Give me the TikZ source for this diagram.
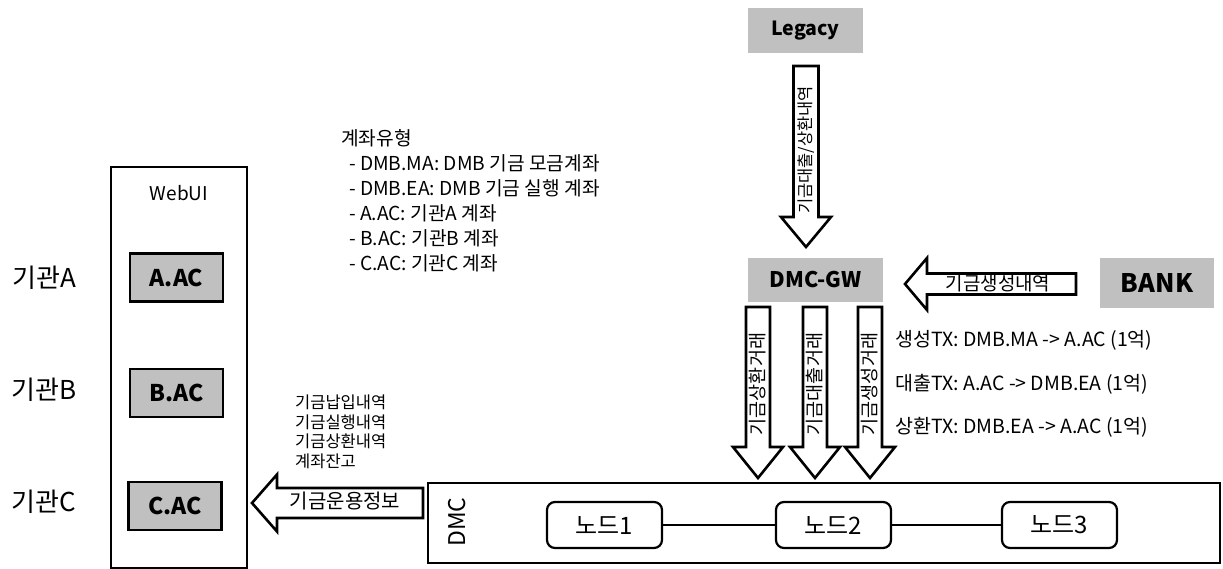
\documentclass[tikz,border=0pt]{standalone}
\usepackage{fontspec}
\setmainfont{Noto Sans CJK KR}
\definecolor{boxgray}{RGB}{192,192,192}
\newcommand{\fs}[1]{\fontsize{#1}{#1}\selectfont}
% down block arrow: cx, top, headbase, tip, halfshaft, halfhead
\newcommand{\blkdown}[6]{%
  \draw[blockarrow] (#1-#5,#2) -- (#1+#5,#2) -- (#1+#5,#3) -- (#1+#6,#3) -- (#1,#4) -- (#1-#6,#3) -- (#1-#5,#3) -- cycle;}
% left block arrow: tipx, cy, headbase x, right x, halfshaft, halfhead
\newcommand{\blkleft}[6]{%
  \draw[blockarrow] (#1,#2) -- (#3,#2-#6) -- (#3,#2-#5) -- (#4,#2-#5) -- (#4,#2+#5) -- (#3,#2+#5) -- (#3,#2+#6) -- cycle;}
\begin{document}
\begin{tikzpicture}[x=1pt,y=-1pt,
  blockarrow/.style={draw=black, fill=white, line width=2.6pt, line join=miter},
  graybox/.style={fill=boxgray, inner sep=0pt, font=\bfseries},
  acbox/.style={draw=black, line width=2.2pt, fill=boxgray, minimum width=93pt, minimum height=48pt, inner sep=0pt, font=\bfseries\fs{23}},
  nodebox/.style={draw=black, line width=2.2pt, rounded corners=8pt, minimum width=115pt, minimum height=46pt, inner sep=0pt, font=\fs{24}},
  frame/.style={draw=black, line width=2.4pt},
  arrowtext/.style={inner sep=0pt, font=\fs{18.5}},
  plain/.style={inner sep=0pt}
]
\useasboundingbox (0,0) rectangle (1223,569);

% top gray boxes
\node[graybox, minimum width=115pt, minimum height=45pt, font=\bfseries\fs{19.5}] (legacy) at (805.5,30.5) {Legacy};
\node[graybox, minimum width=135pt, minimum height=44pt, font=\bfseries\fs{21.5}] (gw) at (815.5,280) {DMC-GW};
\node[graybox, minimum width=114pt, minimum height=50pt, font=\bfseries\fs{25.5}] (bank) at (1157,283) {BANK};

% Legacy -> GW arrow
\blkdown{806}{66}{217}{247}{12.5}{25}
\node[arrowtext, rotate=90, font=\fs{16.5}] (tlegacy) at (806,150) {기금대출/상환내역};

% BANK -> GW arrow
\blkleft{905}{284}{927}{1076}{10.5}{26}
\node[arrowtext, font=\fs{19}] (tbank) at (998,283) {기금생성내역};

% GW -> DMC arrows
\blkdown{758}{307}{447}{478}{12}{25}
\blkdown{815}{307}{447}{478}{12}{25}
\blkdown{870}{307}{447}{478}{12}{25}
\node[arrowtext, rotate=90] (t1) at (758,384) {기금상환거래};
\node[arrowtext, rotate=90] (t2) at (815,384) {기금대출거래};
\node[arrowtext, rotate=90] (t3) at (870,384) {기금생성거래};

% TX texts
\node[plain, anchor=west, font=\fs{19.5}] (tx1) at (895,340) {생성TX: DMB.MA -> A.AC (1억)};
\node[plain, anchor=west, font=\fs{19.5}] (tx2) at (895,384) {대출TX: A.AC -> DMB.EA (1억)};
\node[plain, anchor=west, font=\fs{19.5}] (tx3) at (895,427) {상환TX: DMB.EA -> A.AC (1억)};

% account types
\node[plain, anchor=north west, align=left, font=\fontsize{19.2}{25}\selectfont] (types) at (341,129)
 {계좌유형\\
  \hspace*{8pt}- DMB.MA: DMB 기금 모금계좌\\
  \hspace*{8pt}- DMB.EA: DMB 기금 실행 계좌\\
  \hspace*{8pt}- A.AC: 기관A 계좌\\
  \hspace*{8pt}- B.AC: 기관B 계좌\\
  \hspace*{8pt}- C.AC: 기관C 계좌};

% WebUI
\draw[frame] (111,167) rectangle (247,568);
\node[plain, font=\fs{19}] (webui) at (179,193) {WebUI};
\node[acbox] (aac) at (176.5,277.5) {A.AC};
\node[acbox] (bac) at (176.5,393) {B.AC};
\node[acbox] (cac) at (175,506) {C.AC};
\node[plain, font=\fs{26}] (ga) at (44,278) {기관A};
\node[plain, font=\fs{26}] (gb) at (44,390) {기관B};
\node[plain, font=\fs{26}] (gc) at (44,502) {기관C};

% info list
\node[plain, anchor=west, align=left, font=\fontsize{16.5}{19.5}\selectfont] (info) at (295,432)
 {기금납입내역\\기금실행내역\\기금상환내역\\계좌잔고};

% DMC -> WebUI arrow
\blkleft{252}{503}{277}{423}{15}{28.5}
\node[arrowtext, font=\fs{20}] (tinfo) at (345,501) {기금운용정보};

% DMC box
\draw[frame] (428,483) rectangle (1220,563);
\node[plain, rotate=90, font=\fs{23}] (dmc) at (457,522) {DMC};
\node[nodebox] (n1) at (604.5,525) {노드1};
\node[nodebox] (n2) at (833.5,525) {노드2};
\node[nodebox] (n3) at (1059.5,525) {노드3};
\draw[line width=2pt] (n1) -- (n2);
\draw[line width=2pt] (n2) -- (n3);
\end{tikzpicture}
\end{document}
